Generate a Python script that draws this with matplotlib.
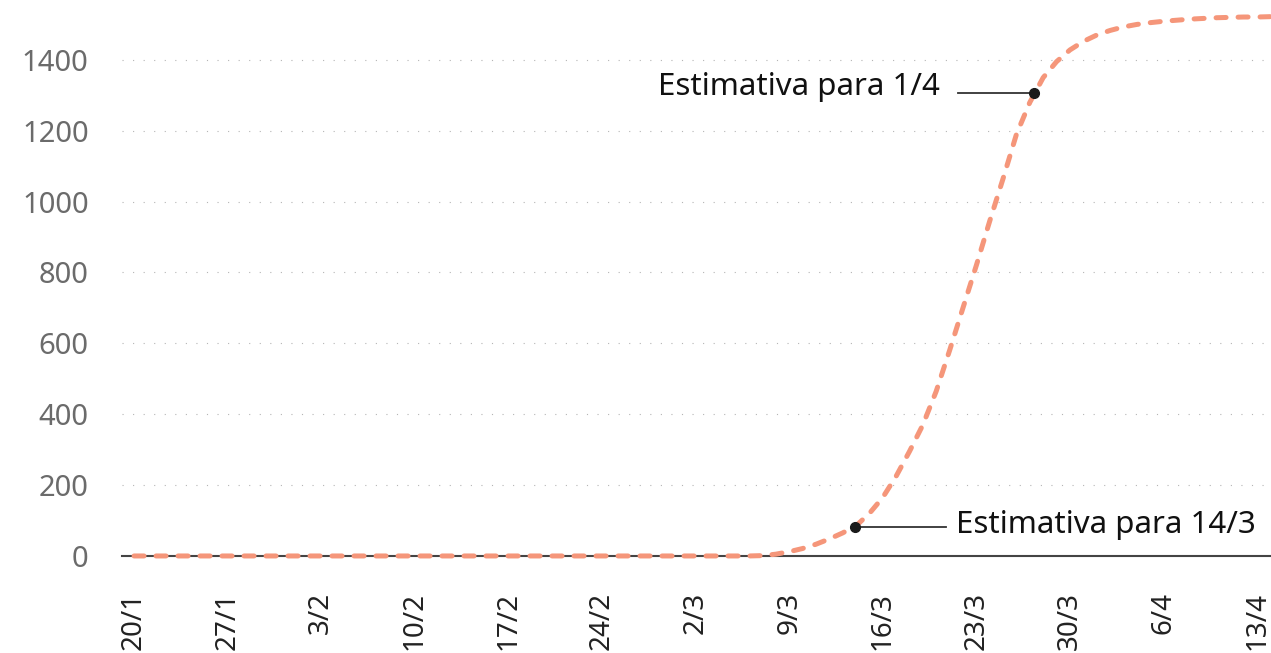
import numpy as np
import matplotlib.pyplot as plt

# fonte e tamanho da figura
plt.rcParams['font.family'] = ['Noto Sans', 'DejaVu Sans']
plt.rcParams['figure.dpi'] = 100

# dias contados a partir de 20/1
days = np.arange(0, 86)
casos = [0] * 47 + [
    1, 5, 12, 21, 33, 48, 65, 85, 120, 165,
    225, 295, 370, 465, 580, 700, 820, 945, 1065, 1190,
    1280, 1350, 1395, 1428, 1452, 1470, 1483, 1493, 1500, 1505,
    1509, 1512, 1515, 1517, 1519, 1520, 1521, 1521, 1522,
]

tick_days = np.arange(0, 85, 7)
tick_labels = ['20/1', '27/1', '3/2', '10/2', '17/2', '24/2', '2/3',
               '9/3', '16/3', '23/3', '30/3', '6/4', '13/4']
y_ticks = [0, 200, 400, 600, 800, 1000, 1200, 1400]

# pontos destacados
est_x = [53.9, 67.3]
est_y = [82, 1306]
est_txt = ['Estimativa para 14/3', 'Estimativa para 1/4']

fig = plt.figure(figsize=(12.71, 6.53))
ax = fig.add_axes([0.096, 0.1486, 0.904, 0.8514])

ax.plot(days, casos, color='#F5967A', lw=3.6, dashes=(2.0, 2.4),
        dash_capstyle='round', clip_on=False, zorder=3)

# estimativas
ax.plot(est_x, est_y, 'o', color='#1a1a1a', ms=7, zorder=5, clip_on=False)
ax.plot([est_x[0], est_x[0] + 6.8], [est_y[0], est_y[0]], color='#333333', lw=1.3, zorder=4)
ax.text(est_x[0] + 7.6, est_y[0] + 5, est_txt[0], fontsize=22.5, color='#111111',
        ha='left', va='center')
ax.plot([est_x[1] - 5.7, est_x[1]], [est_y[1], est_y[1]], color='#333333', lw=1.3, zorder=4)
ax.text(est_x[1] - 7.0, est_y[1] + 18, est_txt[1], fontsize=22.5, color='#111111',
        ha='right', va='center')

ax.set_xlim(-0.9, 85.04)
ax.set_ylim(0, 1569)
ax.set_xticks(tick_days)
ax.set_xticklabels(tick_labels, rotation=90, fontsize=20, color='#222222')
ax.set_yticks(y_ticks)
ax.set_yticklabels([str(v) for v in y_ticks], fontsize=21, color='#6b6b6b')
ax.tick_params(axis='both', length=0)
ax.tick_params(axis='y', pad=24)
ax.tick_params(axis='x', pad=26)

ax.grid(axis='y', color='#b5b5b5', lw=0.8, linestyle=(0, (1, 8.5)))
ax.grid(axis='x', visible=False)
ax.set_axisbelow(True)
for s in ['top', 'right', 'left']:
    ax.spines[s].set_visible(False)
ax.spines['bottom'].set_color('#444444')
ax.spines['bottom'].set_linewidth(1.5)

fig.savefig('out.png', dpi=100)
